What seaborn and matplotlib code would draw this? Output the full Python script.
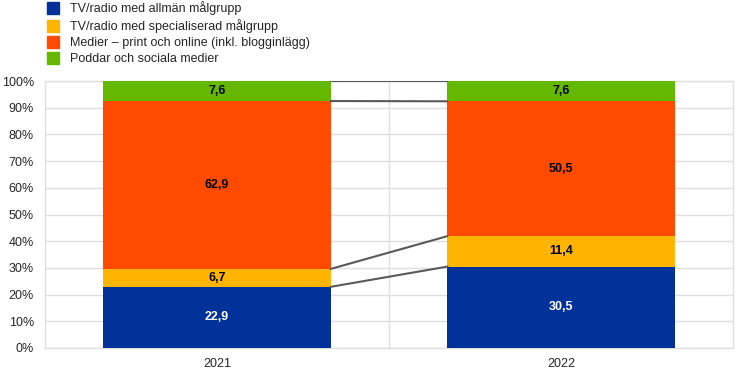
import matplotlib
matplotlib.use('Agg')
import matplotlib.pyplot as plt
from matplotlib.lines import Line2D
import seaborn as sns
import pandas as pd
import numpy as np

sns.set_style('white')
plt.rcParams['font.family'] = ['Liberation Sans', 'DejaVu Sans']

years = ['2021', '2022']
series = ['TV/radio med allmän målgrupp',
          'TV/radio med specialiserad målgrupp',
          'Medier – print och online (inkl. blogginlägg)',
          'Poddar och sociala medier']
allman = [22.9, 30.5]
special = [6.7, 11.4]
medier = [62.9, 50.5]
poddar = [7.6, 7.6]
colors = ['#003299', '#FFB400', '#FF4B00', '#65B800']
text_colors = ['white', 'black', 'black', 'black']

vals = np.array([allman, special, medier, poddar])
cum = vals.cumsum(axis=0)

fig = plt.figure(figsize=(7.44, 3.76), dpi=100)
ax = fig.add_axes([45 / 744, 28 / 376, 688 / 744, 267 / 376])

# stacked bars: draw cumulative totals from top segment down
for i in range(len(series) - 1, -1, -1):
    df = pd.DataFrame({'year': years, 'value': cum[i]})
    sns.barplot(data=df, x='year', y='value', color=colors[i], width=0.66,
                saturation=1, linewidth=0, ax=ax, zorder=3)

# labels
for i in range(len(series)):
    for j in range(len(years)):
        mid = cum[i][j] - vals[i][j] / 2
        ax.text(j, mid, f'{vals[i][j]:.1f}'.replace('.', ','), ha='center', va='center',
                fontsize=9, fontweight='bold', color=text_colors[i], zorder=5)

# connector lines between bars
half = 0.33
for i in range(len(series)):
    top0 = min(cum[i][0], 100)
    top1 = min(cum[i][1], 100)
    ax.plot([half, 1 - half], [top0, top1], color='#595959', lw=1.5, zorder=4)

ax.set_xlim(-0.5, 1.5)
ax.set_ylim(0, 100)
ax.set_yticks(range(0, 101, 10))
ax.set_yticklabels([f'{t}%' for t in range(0, 101, 10)])
ax.set_xlabel('')
ax.set_ylabel('')
ax.tick_params(axis='both', length=0, labelsize=9, pad=7)
ax.tick_params(axis='y', pad=8)
ax.yaxis.grid(True, color='#e0e0e0', lw=1, zorder=0)
ax.axvline(0.5, color='#e0e0e0', lw=1, zorder=0)
for s in ax.spines.values():
    s.set_color('#e0e0e0')
    s.set_linewidth(1)

handles = [Line2D([], [], marker='s', ls='none', markersize=9, color=c) for c in colors]
fig.legend(handles, series, loc='upper left', bbox_to_anchor=(38 / 744, 1.02), frameon=False,
           fontsize=9, handlelength=1.0, handletextpad=0.9, labelspacing=0.33, borderpad=0.2)

fig.savefig('out.png', dpi=100)
